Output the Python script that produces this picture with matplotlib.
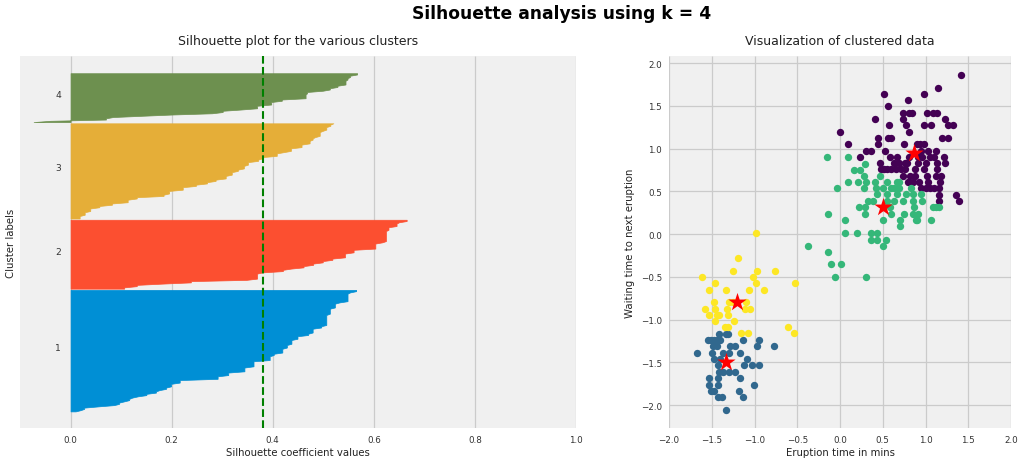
import numpy as np
import matplotlib
matplotlib.use('Agg')
import matplotlib.pyplot as plt

plt.style.use('fivethirtyeight')
plt.rcParams['font.family'] = ['DejaVu Sans']

# ---------------- data ----------------
cluster_labels = ['1', '2', '3', '4']
sil_colors = ['#008fd5', '#fc4f30', '#e5ae38', '#6d904f']
silhouette_avg = 0.38

# sorted silhouette values per cluster, as (value, repeat-count) steps, bottom -> top
sil1_vals = [0.010, 0.020, 0.027, 0.055, 0.086, 0.096, 0.106, 0.116, 0.122, 0.133, 0.150, 0.169,
             0.176, 0.189, 0.199, 0.216, 0.291, 0.312, 0.344, 0.362, 0.394, 0.402, 0.419, 0.428,
             0.437, 0.449, 0.470, 0.479, 0.496, 0.506, 0.513, 0.523, 0.532, 0.548, 0.553, 0.565]
sil1_counts = [1, 1, 2, 1, 1, 2, 1, 2, 1, 1, 2, 2, 1, 2, 3, 3, 3, 3, 4, 5, 4, 2, 4, 3,
               4, 3, 2, 4, 2, 9, 5, 4, 1, 7, 1, 2]

sil2_vals = [0.106, 0.131, 0.181, 0.238, 0.348, 0.369, 0.380, 0.420, 0.436, 0.461, 0.480, 0.499,
             0.518, 0.543, 0.560, 0.603, 0.617, 0.624, 0.629, 0.645, 0.650, 0.665]
sil2_counts = [2, 2, 1, 2, 1, 5, 1, 2, 1, 2, 2, 2, 2, 4, 3, 5, 1, 9, 3, 3, 1, 2]

sil3_vals = [0.018, 0.028, 0.039, 0.057, 0.082, 0.113, 0.131, 0.184, 0.195, 0.222, 0.248, 0.270,
             0.287, 0.307, 0.319, 0.331, 0.343, 0.351, 0.371, 0.379, 0.408, 0.422, 0.436, 0.457,
             0.473, 0.479, 0.484, 0.493, 0.499, 0.506, 0.514, 0.520]
sil3_counts = [3, 3, 3, 2, 2, 3, 2, 2, 3, 3, 2, 2, 2, 3, 3, 2, 3, 3, 2, 2, 3, 1, 3, 3,
               3, 2, 1, 4, 1, 3, 2, 1]

sil4_vals = [-0.073, -0.040, 0.070, 0.084, 0.141, 0.200, 0.280, 0.301, 0.337, 0.369, 0.397, 0.418,
             0.465, 0.468, 0.499, 0.513, 0.528, 0.544, 0.548, 0.553, 0.567]
sil4_counts = [1, 1, 2, 1, 1, 1, 1, 2, 1, 3, 3, 2, 4, 2, 1, 2, 2, 4, 2, 2, 2]

# scatter: standardized eruption time (x) and waiting time (y) per cluster
c0_x = [1.42, 1.148, 0.516, 0.988, 0.797, 0.559,
        0.734, 0.805, 0.84, 1.02, 1.086, 1.133,
        0.414, 0.738, 1.23,
        0.578, 0.77, 0.977, 1.059, 1.266, 1.32,
        0.0, 0.809,
        0.449, 0.566, 0.60, 1.19, 1.26,
        0.094, 0.441, 0.75, 0.906, 0.938, 0.977,
        0.309, 0.367, 0.523, 0.953, 1.035, 1.125,
        0.238, 0.59, 0.672, 0.809, 0.914, 0.957, 1.055, 1.098, 1.219,
        0.465, 0.637, 0.691, 0.758, 0.785, 0.91, 1.008, 1.133, 1.23,
        0.477, 0.516, 0.555, 0.594, 0.656, 0.715, 0.766, 0.883, 0.988, 1.133,
        0.742, 0.813, 0.883, 1.02, 1.125, 1.184,
        0.80, 0.859, 0.922, 1.027, 1.164,
        0.953, 1.0, 1.047, 1.098, 1.156,
        1.16, 1.352,
        1.156, 1.387]
c0_y = [1.86, 1.715, 1.641, 1.641, 1.566, 1.496,
        1.418, 1.418, 1.418, 1.418, 1.418, 1.418,
        1.344, 1.344, 1.344,
        1.273, 1.273, 1.273, 1.273, 1.273, 1.273,
        1.199, 1.195,
        1.125, 1.125, 1.125, 1.125, 1.125,
        1.051, 1.051, 1.051, 1.051, 1.051, 1.051,
        0.977, 0.977, 0.977, 0.977, 0.977, 0.977,
        0.902, 0.902, 0.902, 0.902, 0.902, 0.902, 0.902, 0.902, 0.902,
        0.832, 0.832, 0.832, 0.832, 0.832, 0.832, 0.832, 0.832, 0.832,
        0.758, 0.758, 0.758, 0.758, 0.758, 0.758, 0.758, 0.758, 0.758, 0.758,
        0.684, 0.684, 0.684, 0.684, 0.684, 0.684,
        0.609, 0.609, 0.609, 0.609, 0.609,
        0.535, 0.535, 0.535, 0.535, 0.535,
        0.461, 0.461,
        0.387, 0.387]

c1_x = [-1.418, -1.336, -1.312,
        -1.547, -1.508, -1.469, -1.434, -1.406, -1.137, -0.949,
        -1.484, -1.437, -1.285, -1.223, -0.969, -0.77,
        -1.668, -1.50, -1.371, -1.297, -1.168,
        -1.473, -1.398, -1.09,
        -1.43, -1.117, -1.035, -0.945,
        -1.418, -1.371, -1.293, -1.223,
        -1.535, -1.43, -1.164,
        -1.535, -1.43, -1.008,
        -1.508, -1.469, -1.184,
        -1.426, -1.383, -1.137,
        -1.328]
c1_y = [-1.164, -1.164, -1.164,
        -1.238, -1.238, -1.238, -1.238, -1.238, -1.238, -1.238,
        -1.313, -1.313, -1.313, -1.313, -1.313, -1.313,
        -1.387, -1.387, -1.387, -1.387, -1.387,
        -1.461, -1.461, -1.461,
        -1.535, -1.535, -1.535, -1.535,
        -1.609, -1.609, -1.609, -1.609,
        -1.684, -1.684, -1.684,
        -1.758, -1.758, -1.758,
        -1.828, -1.828, -1.828,
        -1.902, -1.902, -1.902,
        -2.055]

c2_x = [-0.156, 0.094, 0.297, 0.164, 0.234, 0.281, 0.469,
        0.094, 0.211, 0.309, 0.406, 0.547, 0.668, 0.688,
        -0.039, 0.277, 0.426, 0.508, 0.594, 0.637, 0.688, 0.828,
        0.43, 0.547, 0.664, 0.77, 0.859, 0.953,
        0.332, 0.39, 0.547, 0.637, 0.738, 0.852, 0.961,
        0.227, 0.297, 0.586, 0.871, 1.086, 1.125, 1.156,
        -0.145, 0.297, 0.594, 0.754, 0.859, 0.91,
        0.0625, 0.5, 0.703, 0.89, 0.906, 1.059,
        0.707,
        0.0625, 0.195, 0.363, 0.4375,
        0.367, 0.4375, 0.535,
        0.5, -0.375, -0.145,
        -0.10, 0.014, -0.06, 0.307]
c2_y = [0.898, 0.898, 0.824, 0.754, 0.754, 0.68, 0.68,
        0.605, 0.605, 0.605, 0.605, 0.605, 0.605, 0.605,
        0.535, 0.535, 0.535, 0.535, 0.535, 0.535, 0.535, 0.535,
        0.465, 0.465, 0.465, 0.465, 0.465, 0.465,
        0.387, 0.387, 0.387, 0.387, 0.387, 0.387, 0.387,
        0.313, 0.313, 0.313, 0.313, 0.313, 0.313, 0.313,
        0.234, 0.234, 0.234, 0.234, 0.234, 0.234,
        0.16, 0.16, 0.16, 0.16, 0.16, 0.16,
        0.09,
        0.012, 0.012, 0.012, 0.012,
        -0.0625, -0.0625, -0.0625,
        -0.133, -0.133, -0.211,
        -0.35, -0.35, -0.5, -0.5]

c3_x = [-0.977, -1.195, -1.254, -0.965, -0.758, -1.609, -1.023,
        -1.461, -0.988, -0.523, -1.535, -1.332, -1.066, -0.891,
        -1.477, -1.30, -1.246, -1.102,
        -1.578, -1.461, -1.32, -1.109, -1.051,
        -1.535, -1.441, -1.41, -1.313,
        -1.461, -1.238, -1.344, -1.305, -0.613,
        -1.156, -1.078, -0.539]
c3_y = [0.016, -0.281, -0.43, -0.43, -0.43, -0.504, -0.504,
        -0.574, -0.574, -0.574, -0.648, -0.648, -0.648, -0.648,
        -0.793, -0.793, -0.793, -0.793,
        -0.871, -0.871, -0.871, -0.871, -0.871,
        -0.941, -0.941, -0.941, -0.941,
        -1.012, -1.012, -1.09, -1.09, -1.09,
        -1.16, -1.16, -1.16]

centers_x = [0.87, -1.33, 0.50, -1.20]
centers_y = [0.95, -1.50, 0.32, -0.79]

# ---------------- figure ----------------
fig = plt.figure(figsize=(10.24, 4.64), dpi=100, facecolor='white')
ax1 = fig.add_axes([20 / 1024, 1 - 429.3 / 464, 556 / 1024, 372 / 464])
ax2 = fig.add_axes([669 / 1024, 1 - 429.3 / 464, 342 / 1024, 372 / 464])

tick_fs = 6.3
label_fs = 7.3
title_fs = 9.0

sil_sets = [(sil1_vals, sil1_counts), (sil2_vals, sil2_counts),
            (sil3_vals, sil3_counts), (sil4_vals, sil4_counts)]
y_lower = 10
for i, (vals, counts) in enumerate(sil_sets):
    s = np.repeat(vals, counts)
    n = len(s)
    y_upper = y_lower + n
    ax1.fill_betweenx(np.arange(y_lower, y_upper), 0, s,
                      facecolor=sil_colors[i], edgecolor=sil_colors[i], linewidth=0.5)
    ax1.text(-0.03, y_lower + 0.5 * n, cluster_labels[i], fontsize=tick_fs + 0.3, color='#333333')
    y_lower = y_upper

ax1.axvline(x=silhouette_avg, color='green', linestyle='--', linewidth=1.5)
ax1.set_xlim([-0.1, 1])
ax1.set_yticks([])
ax1.set_xticks([0, 0.2, 0.4, 0.6, 0.8, 1.0])
ax1.set_xlabel('Silhouette coefficient values', fontsize=label_fs, labelpad=2)
ax1.set_ylabel('Cluster labels', fontsize=label_fs, labelpad=3)
ax1.set_title('Silhouette plot for the various clusters', fontsize=title_fs, pad=9)

cmap = plt.cm.viridis
cl_x = [c0_x, c1_x, c2_x, c3_x]
cl_y = [c0_y, c1_y, c2_y, c3_y]
for i in range(4):
    ax2.scatter(cl_x[i], cl_y[i], color=cmap(i / 3), s=28, zorder=3, linewidths=0)
ax2.scatter(centers_x, centers_y, marker='*', color='red', s=190, zorder=4, linewidths=0)
ax2.set_xlim([-2, 2])
ax2.set_ylim([-2.27, 2.08])
ax2.set_xticks(np.arange(-2.0, 2.01, 0.5))
ax2.set_yticks(np.arange(-2.0, 2.01, 0.5))
ax2.set_xlabel('Eruption time in mins', fontsize=label_fs, labelpad=2)
ax2.set_ylabel('Waiting time to next eruption', fontsize=label_fs, labelpad=4)
ax2.set_title('Visualization of clustered data', fontsize=title_fs, pad=9)

for ax in (ax1, ax2):
    ax.set_facecolor('#f0f0f0')
    ax.tick_params(labelsize=tick_fs, colors='#333333', length=0, pad=5)
    ax.grid(True, color='#cbcbcb', linewidth=0.9)
    ax.set_axisbelow(True)
    for sp in ax.spines.values():
        sp.set_visible(False)
    ax.xaxis.label.set_color('#222222')
    ax.yaxis.label.set_color('#222222')
    ax.title.set_color('#222222')

fig.suptitle('Silhouette analysis using k = 4', fontsize=12.3, fontweight='bold',
             x=562 / 1024, y=0.99)

fig.savefig('out.png', dpi=100, facecolor='white')
